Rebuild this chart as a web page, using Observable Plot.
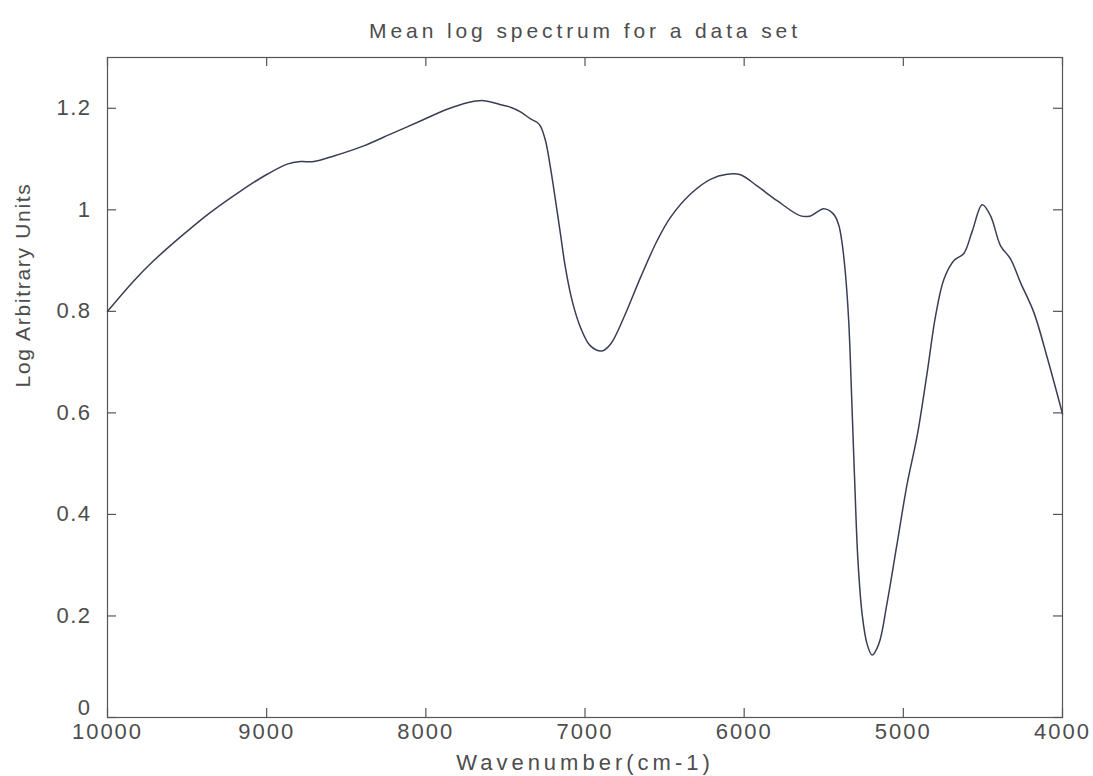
<!DOCTYPE html>
<html>
<head>
<meta charset="utf-8">
<script src="https://cdn.jsdelivr.net/npm/d3@7"></script>
<script src="https://cdn.jsdelivr.net/npm/@observablehq/plot@0.6"></script>
<style>
  html, body { margin: 0; padding: 0; background: #fff; }
  #chart svg { display: block; }
</style>
</head>
<body>
<div id="chart"></div>
<script>
const titleText = "Mean log spectrum for a data set";
const xLabelText = "Wavenumber(cm-1)";
const yLabelText = "Log Arbitrary Units";

const xTicks = [10000, 9000, 8000, 7000, 6000, 5000, 4000];
const yTicks = [0, 0.2, 0.4, 0.6, 0.8, 1, 1.2];

const wavenumber = [
  10000, 9835, 9709, 9521, 9353, 9164, 8997, 8871, 8787, 8704, 8578, 8390, 8222, 8034,
  7866, 7740, 7636, 7531, 7468, 7400, 7342, 7300, 7280, 7248, 7217, 7185, 7154, 7123,
  7081, 7028, 6966, 6892, 6840, 6756, 6651, 6547, 6463, 6337, 6212, 6107, 6023, 5919,
  5793, 5645, 5583, 5500, 5437, 5406, 5385, 5364, 5343, 5322, 5305, 5286, 5259, 5228,
  5196, 5154, 5102, 5039, 4976, 4913, 4850, 4798, 4745, 4682, 4620, 4567, 4504, 4452,
  4389, 4326, 4263, 4179, 4096, 4000
];
const logUnits = [
  0.800, 0.860, 0.900, 0.952, 0.995, 1.037, 1.070, 1.090, 1.095, 1.095, 1.106, 1.126, 1.149, 1.175,
  1.198, 1.211, 1.215, 1.207, 1.202, 1.192, 1.179, 1.172, 1.165, 1.136, 1.083, 1.018, 0.952, 0.886,
  0.821, 0.768, 0.732, 0.722, 0.735, 0.788, 0.867, 0.939, 0.985, 1.031, 1.060, 1.070, 1.069, 1.047,
  1.018, 0.988, 0.988, 1.002, 0.991, 0.970, 0.935, 0.875, 0.780, 0.607, 0.460, 0.314, 0.204, 0.145,
  0.123, 0.145, 0.226, 0.343, 0.460, 0.555, 0.680, 0.790, 0.863, 0.900, 0.914, 0.958, 1.010, 0.988,
  0.929, 0.903, 0.856, 0.797, 0.709, 0.598
];

const data = wavenumber.map((w, i) => ({w, v: logUnits[i]}));

const W = 1093, H = 776;
const mL = 107, mR = 31, mT = 57, mB = 59;
const fw = W - mL - mR, fh = H - mT - mB;
const tick = 9;
const textColor = "#4d4d4d";
const font = "'Liberation Sans', Arial, Helvetica, sans-serif";

const plot = Plot.plot({
  width: W,
  height: H,
  marginLeft: mL,
  marginRight: mR,
  marginTop: mT,
  marginBottom: mB,
  style: {fontFamily: font, color: textColor, background: "#fff", overflow: "visible"},
  x: {domain: [10000, 4000]},
  y: {domain: [0, 1.3]},
  marks: [
    Plot.frame({stroke: "#555", strokeWidth: 1.2}),
    Plot.ruleX(xTicks, {x: d => d, insetTop: fh - tick, stroke: "#555", strokeWidth: 1.2}),
    Plot.ruleX(xTicks, {x: d => d, insetBottom: fh - tick, stroke: "#555", strokeWidth: 1.2}),
    Plot.ruleY(yTicks, {y: d => d, insetRight: fw - tick, stroke: "#555", strokeWidth: 1.2}),
    Plot.ruleY(yTicks, {y: d => d, insetLeft: fw - tick, stroke: "#555", strokeWidth: 1.2}),
    Plot.axisX({ticks: xTicks, tickSize: 0, tickPadding: 6, tickFormat: d => String(d), fontSize: 22, label: null, className: "xt"}),
    Plot.axisY({ticks: yTicks.filter(d => d !== 0), tickSize: 0, tickPadding: 16, tickFormat: d => String(d), fontSize: 22, label: null, className: "yt"}),
    Plot.axisY({ticks: [0], tickSize: 0, tickPadding: 16, dy: -10, tickFormat: d => String(d), fontSize: 22, label: null, className: "yt"}),
    Plot.line(data, {x: "w", y: "v", stroke: "#3b3d55", strokeWidth: 1.5, curve: "catmull-rom"}),
    Plot.text([titleText], {text: d => d, frameAnchor: "top", dy: -34, fontSize: 21, fill: textColor, className: "ttl"}),
    Plot.text([xLabelText], {text: d => d, frameAnchor: "bottom", dy: 52, fontSize: 22, fill: textColor, className: "xl"}),
    Plot.text([yLabelText], {text: d => d, frameAnchor: "left", dx: -84, rotate: -90, fontSize: 21, fill: textColor, className: "yl"})
  ]
});

const sp = {xt: "2px", yt: "1.5px", ttl: "3.9px", xl: "4px", yl: "1.7px"};
for (const [cls, ls] of Object.entries(sp)) {
  d3.select(plot).selectAll("text").filter(function() {
    return this.closest(`.${cls}`) !== null;
  }).style("letter-spacing", ls);
}
document.getElementById("chart").appendChild(plot);
</script>
</body>
</html>
